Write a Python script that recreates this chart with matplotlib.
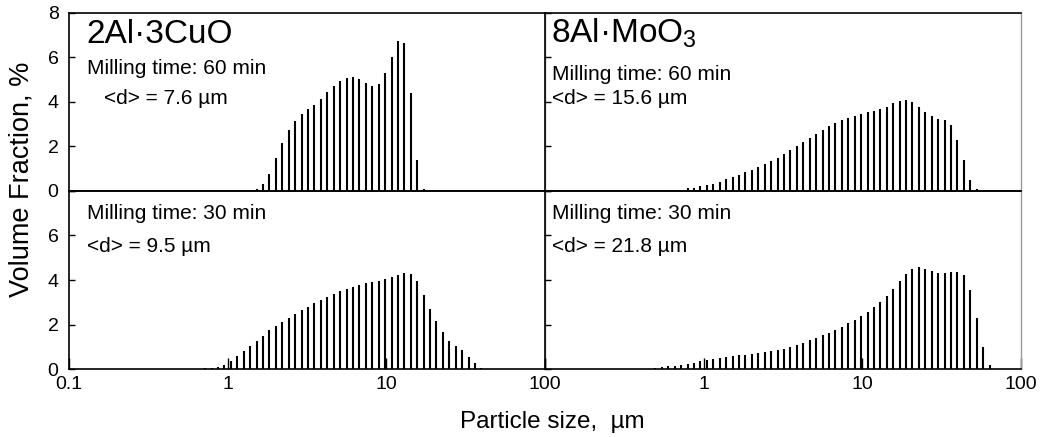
import matplotlib
matplotlib.use("Agg")
import matplotlib.pyplot as plt
from matplotlib.ticker import FixedLocator, NullLocator, NullFormatter

plt.rcParams["font.family"] = ["Liberation Sans", "DejaVu Sans"]
plt.rcParams["mathtext.fontset"] = "custom"
plt.rcParams["mathtext.rm"] = "Liberation Sans"
plt.rcParams["mathtext.it"] = "Liberation Sans:italic"

# Size channels (um) and volume fractions (%)
cuo_60_size = [1.520, 1.668, 1.832, 2.011, 2.207, 2.423, 2.660, 2.920, 3.205, 3.519,
               3.863, 4.240, 4.655, 5.110, 5.610, 6.158, 6.760, 7.421, 8.147, 8.943,
               9.817, 10.78, 11.83, 12.99, 14.26, 15.65, 17.18]
cuo_60_frac = [0.07, 0.29, 0.77, 1.46, 2.15, 2.72, 3.15, 3.45, 3.66, 3.87,
               4.11, 4.42, 4.72, 4.95, 5.05, 5.10, 5.00, 4.83, 4.71, 4.78,
               5.30, 6.00, 6.75, 6.65, 4.39, 1.36, 0.08]

moo_60_size = [0.598, 0.656, 0.721, 0.791, 0.868, 0.953, 1.047, 1.149, 1.261, 1.385,
               1.520, 1.668, 1.832, 2.011, 2.207, 2.423, 2.660, 2.920, 3.205, 3.519,
               3.863, 4.240, 4.655, 5.110, 5.610, 6.158, 6.760, 7.421, 8.147, 8.943,
               9.817, 10.78, 11.83, 12.99, 14.26, 15.65, 17.18, 18.86, 20.70, 22.73,
               24.95, 27.38, 30.07, 33.01, 36.24, 39.78, 43.67, 47.94, 52.62]
moo_60_frac = [0.01, 0.02, 0.05, 0.10, 0.14, 0.20, 0.26, 0.32, 0.41, 0.52,
               0.61, 0.71, 0.83, 0.94, 1.06, 1.19, 1.33, 1.49, 1.66, 1.82,
               2.02, 2.21, 2.39, 2.57, 2.74, 2.89, 3.04, 3.16, 3.27, 3.36,
               3.45, 3.52, 3.58, 3.67, 3.76, 3.93, 4.05, 4.09, 3.99, 3.78,
               3.52, 3.36, 3.24, 3.16, 2.95, 2.30, 1.36, 0.47, 0.07]

cuo_30_size = [0.721, 0.791, 0.868, 0.953, 1.047, 1.149, 1.261, 1.385, 1.520, 1.668,
               1.832, 2.011, 2.207, 2.423, 2.660, 2.920, 3.205, 3.519, 3.863, 4.240,
               4.655, 5.110, 5.610, 6.158, 6.760, 7.421, 8.147, 8.943, 9.817, 10.78,
               11.83, 12.99, 14.26, 15.65, 17.18, 18.86, 20.70, 22.73, 24.95, 27.38,
               30.07, 33.01, 36.24, 39.78]
cuo_30_frac = [0.05, 0.06, 0.10, 0.21, 0.36, 0.59, 0.83, 1.05, 1.28, 1.50,
               1.74, 1.95, 2.13, 2.31, 2.49, 2.66, 2.81, 2.96, 3.12, 3.26,
               3.39, 3.51, 3.62, 3.71, 3.78, 3.87, 3.93, 3.98, 4.05, 4.12,
               4.22, 4.32, 4.28, 3.95, 3.35, 2.70, 2.15, 1.67, 1.29, 1.04,
               0.86, 0.56, 0.27, 0.05]

moo_30_size = [0.412, 0.452, 0.496, 0.545, 0.598, 0.656, 0.721, 0.791, 0.868, 0.953,
               1.047, 1.149, 1.261, 1.385, 1.520, 1.668, 1.832, 2.011, 2.207, 2.423,
               2.660, 2.920, 3.205, 3.519, 3.863, 4.240, 4.655, 5.110, 5.610, 6.158,
               6.760, 7.421, 8.147, 8.943, 9.817, 10.78, 11.83, 12.99, 14.26, 15.65,
               17.18, 18.86, 20.70, 22.73, 24.95, 27.38, 30.07, 33.01, 36.24, 39.78,
               43.67, 47.94, 52.62, 57.77, 63.41]
moo_30_frac = [0.015, 0.03, 0.06, 0.09, 0.135, 0.165, 0.21, 0.26, 0.30, 0.36,
               0.41, 0.45, 0.50, 0.54, 0.59, 0.62, 0.65, 0.69, 0.72, 0.77,
               0.81, 0.86, 0.90, 1.01, 1.10, 1.20, 1.31, 1.41, 1.53, 1.65,
               1.77, 1.91, 2.06, 2.21, 2.37, 2.57, 2.78, 3.02, 3.30, 3.60,
               3.95, 4.28, 4.50, 4.57, 4.52, 4.43, 4.34, 4.32, 4.37, 4.37,
               4.23, 3.57, 2.30, 0.98, 0.20]

x_ticks = [0.1, 1, 10, 100]
x_ticklabels = ["0.1", "1", "10", "100"]
y_ticks = [0, 2, 4, 6, 8]

W, H = 1041, 437
fig = plt.figure(figsize=(W / 100, H / 100), dpi=100)


def px_rect(x0, y0, x1, y1):
    return [x0 / W, 1 - y1 / H, (x1 - x0) / W, (y1 - y0) / H]


ax_tl = fig.add_axes(px_rect(69, 12.7, 545, 190.7))
ax_tr = fig.add_axes(px_rect(545, 12.7, 1021, 190.7))
ax_bl = fig.add_axes(px_rect(69, 190.9, 545, 369.3))
ax_br = fig.add_axes(px_rect(545, 190.9, 1021, 369.3))

panels = [
    (ax_tl, cuo_60_size, cuo_60_frac),
    (ax_tr, moo_60_size, moo_60_frac),
    (ax_bl, cuo_30_size, cuo_30_frac),
    (ax_br, moo_30_size, moo_30_frac),
]

for ax, size, frac in panels:
    ax.set_xscale("log")
    ax.set_xlim(0.1, 100)
    ax.set_ylim(0, 8)
    ax.vlines(size, 0, frac, colors="black", linewidth=1.5)
    for side in ("left", "top", "bottom"):
        ax.spines[side].set_linewidth(1.2)
        ax.spines[side].set_color("black")
    ax.spines["right"].set_color("#9a9a9a")
    ax.spines["right"].set_linewidth(1.0)
    ax.yaxis.set_major_locator(FixedLocator(y_ticks))
    ax.yaxis.set_minor_locator(NullLocator())
    ax.xaxis.set_minor_locator(NullLocator())
    ax.tick_params(axis="y", direction="in", length=4, width=1.0,
                   labelsize=14, pad=7.5, colors="black")
    ax.set_facecolor("none")

# Left column y labels
ax_tl.set_yticklabels(["0", "2", "4", "6", "8"])
ax_bl.set_yticklabels(["0", "2", "4", "6", ""])
for ax in (ax_tr, ax_br):
    ax.yaxis.set_major_formatter(NullFormatter())

# Top row: no x ticks
for ax in (ax_tl, ax_tr):
    ax.xaxis.set_major_locator(NullLocator())
    ax.xaxis.set_major_formatter(NullFormatter())

# Bottom row: decade ticks pointing inward
for ax in (ax_bl, ax_br):
    ax.xaxis.set_major_locator(FixedLocator(x_ticks))
    ax.tick_params(axis="x", direction="in", length=8, width=1.0,
                   labelsize=14, pad=5, colors="black")
ax_bl.set_xticklabels(x_ticklabels)
ax_br.set_xticklabels([""] + x_ticklabels[1:])


def ftext(x, y, s, size, **kw):
    fig.text(x / W, 1 - y / H, s, fontsize=size, va="baseline", ha="left", **kw)


# Panel annotations
ftext(86, 43, "2Al·3CuO", 24)
ftext(87, 74, "Milling time: 60 min", 15)
ftext(104, 104, "<d> = 7.6 µm", 15)

ftext(551, 43, "8Al·MoO$_3$", 24)
ftext(552, 80, "Milling time: 60 min", 15)
ftext(552, 104, "<d> = 15.6 µm", 15)

ftext(87, 219, "Milling time: 30 min", 15)
ftext(87, 252, "<d> = 9.5 µm", 15)

ftext(552, 219, "Milling time: 30 min", 15)
ftext(552, 252, "<d> = 21.8 µm", 15)

fig.text(22 / W, 1 - 179 / H, "Volume Fraction, %", fontsize=19.5,
         rotation=90, ha="center", va="center")
fig.text(460 / W, 1 - 428 / H, "Particle size,  µm", fontsize=17.5,
         ha="left", va="baseline")

fig.savefig("out.png", dpi=100)
